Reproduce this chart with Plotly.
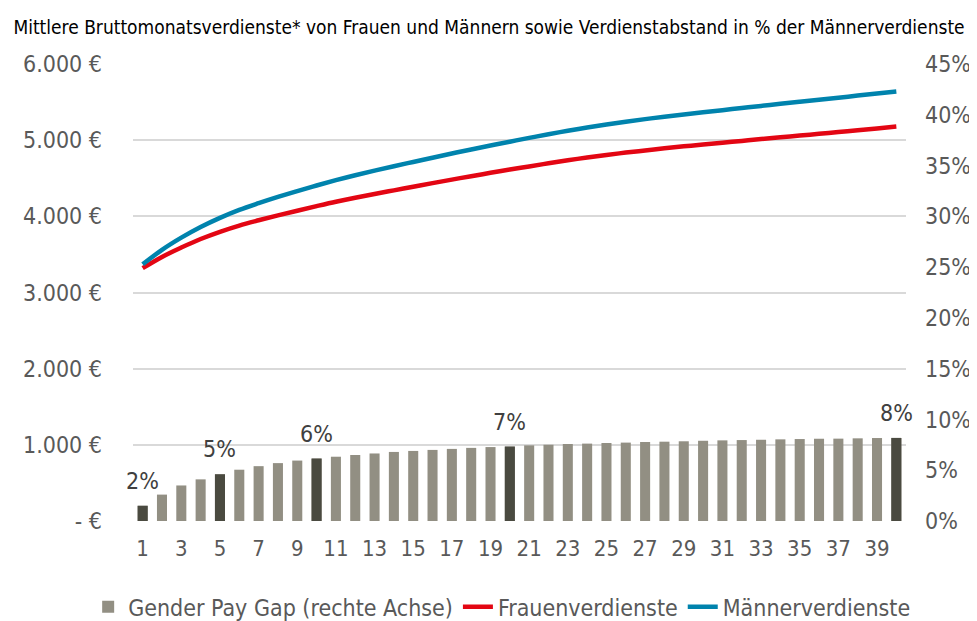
import plotly.graph_objects as go

# ---- data ----
years = list(range(1, 41))
gap_pct = [1.5, 2.6, 3.5, 4.1, 4.6, 5.05, 5.4, 5.7, 5.95, 6.15,
           6.33, 6.5, 6.65, 6.8, 6.9, 7.0, 7.1, 7.2, 7.28, 7.33,
           7.45, 7.51, 7.58, 7.62, 7.68, 7.72, 7.78, 7.81, 7.85, 7.9,
           7.94, 7.97, 8.0, 8.04, 8.07, 8.1, 8.11, 8.14, 8.17, 8.18]
men = [3370, 3560, 3720, 3860, 3980, 4085, 4173, 4255, 4332, 4405,
       4475, 4540, 4600, 4658, 4714, 4770, 4825, 4878, 4930, 4980,
       5030, 5078, 5124, 5166, 5205, 5242, 5276, 5308, 5338, 5366,
       5394, 5422, 5450, 5477, 5504, 5531, 5558, 5585, 5612, 5639]
women = [3319, 3467, 3590, 3702, 3797, 3879, 3948, 4013, 4074, 4134,
         4192, 4245, 4294, 4341, 4389, 4436, 4482, 4527, 4571, 4615,
         4655, 4697, 4736, 4772, 4805, 4837, 4865, 4893, 4919, 4942,
         4966, 4990, 5014, 5037, 5060, 5083, 5107, 5130, 5153, 5178]
labelled_years = [1, 5, 10, 20, 40]
labelled_text = ["2%", "5%", "6%", "7%", "8%"]
left_ticks = [0, 1000, 2000, 3000, 4000, 5000, 6000]
left_ticktext = ["- €", "1.000 €", "2.000 €", "3.000 €", "4.000 €", "5.000 €", "6.000 €"]
right_ticks = [0, 5, 10, 15, 20, 25, 30, 35, 40, 45]
right_ticktext = ["0%", "5%", "10%", "15%", "20%", "25%", "30%", "35%", "40%", "45%"]
x_ticks = list(range(1, 40, 2))

FONT = "Liberation Sans Narrow, Arial Narrow, DejaVu Sans Condensed, sans-serif"
TXT = "#595959"
LIGHT = "#928f83"
DARK = "#4a4a40"
RED = "#e30613"
BLUE = "#0083ad"

labelled_vals = [gap_pct[y - 1] for y in labelled_years]

fig = go.Figure()
fig.add_trace(go.Bar(x=years, y=gap_pct, yaxis="y2", marker_color=LIGHT,
                     width=0.52, name="Gender Pay Gap (rechte Achse)",
                     marker_line_width=0))
fig.add_trace(go.Bar(x=labelled_years, y=labelled_vals, yaxis="y2", marker_color=DARK,
                     width=0.52, showlegend=False, marker_line_width=0,
                     text=labelled_text, textposition="none"))
fig.add_trace(go.Scatter(x=years, y=women, mode="lines", name="Frauenverdienste",
                         line=dict(color=RED, width=4.5, shape="spline")))
fig.add_trace(go.Scatter(x=years, y=men, mode="lines", name="Männerverdienste",
                         line=dict(color=BLUE, width=4.5, shape="spline")))

for yr, val, lab in zip(labelled_years, labelled_vals, labelled_text):
    fig.add_annotation(x=yr, y=val, xref="x", yref="y2", text=lab,
                       showarrow=False, yanchor="bottom", yshift=10,
                       font=dict(family=FONT, size=23, color="#404040"))

# page body has an 8px default margin; the figure is sized to fit the window
fig.update_layout(
    width=969, height=613,
    margin=dict(l=125, r=71, t=56, b=100, autoexpand=False),
    paper_bgcolor="white", plot_bgcolor="white",
    font=dict(family=FONT, size=23, color=TXT),
    barmode="overlay",
    title=dict(text="Mittlere Bruttomonatsverdienste* von Frauen und Männern sowie Verdienstabstand in % der Männerverdienste",
               x=0.4964, xanchor="center", xref="container", y=0.969, yanchor="middle",
               font=dict(family=FONT, size=19, color="#000000")),
    xaxis=dict(range=[0.5, 40.5], tickvals=x_ticks, showgrid=False, zeroline=False,
               showline=False, ticks="", ticklabelstandoff=12,
               tickfont=dict(size=22, color=TXT)),
    yaxis=dict(range=[0, 6000], tickvals=left_ticks, ticktext=left_ticktext,
               showgrid=True, gridcolor="#d9d9d9", gridwidth=1.5, zeroline=False,
               showline=False, ticks="", ticklabelstandoff=30,
               tickfont=dict(size=23, color=TXT)),
    yaxis2=dict(range=[0, 45], tickvals=right_ticks, ticktext=right_ticktext,
                overlaying="y", side="right", showgrid=False, zeroline=False,
                showline=False, ticks="", ticklabelstandoff=18,
                tickfont=dict(size=23, color=TXT)),
    legend=dict(orientation="h", x=-0.058, xanchor="left", y=-0.188, yanchor="middle",
                font=dict(family=FONT, size=23, color=TXT), traceorder="normal",
                itemwidth=30),
    showlegend=True,
)

fig.write_html("out.html")
